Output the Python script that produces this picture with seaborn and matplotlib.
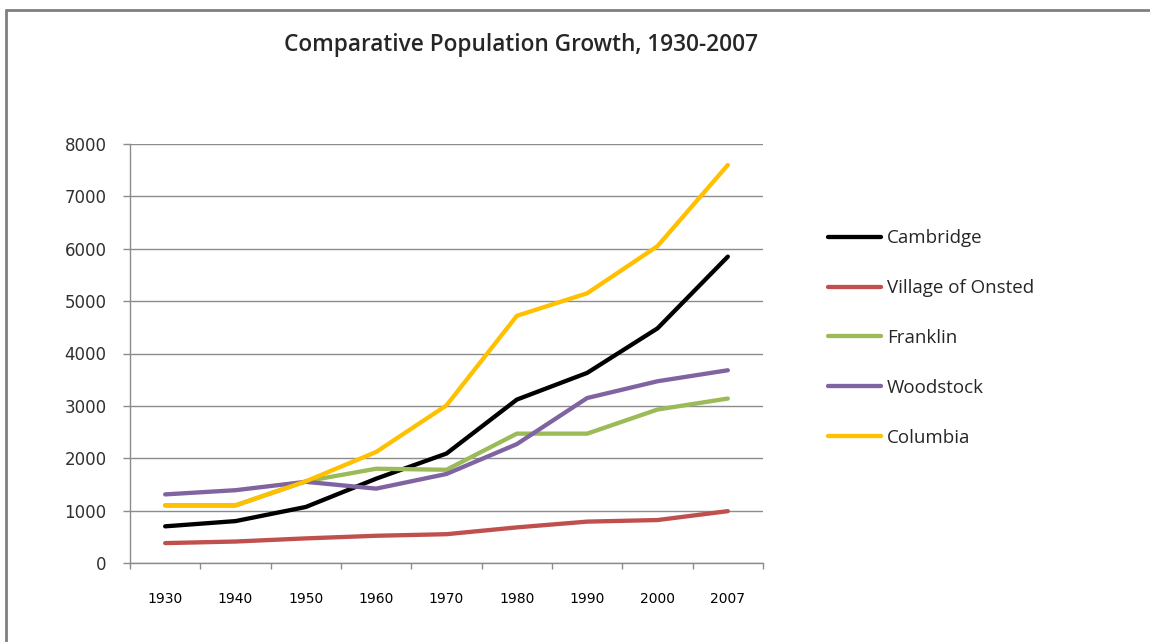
import pandas as pd
import numpy as np
import matplotlib.pyplot as plt
import seaborn as sns
from matplotlib.lines import Line2D
from matplotlib.ticker import FixedLocator

# ==========================================
# Data
# ==========================================

years = ["1930", "1940", "1950", "1960", "1970", "1980", "1990", "2000", "2007"]

cambridge = [700, 800, 1070, 1610, 2090, 3120, 3630, 4480, 5850]
onsted = [380, 410, 470, 520, 550, 680, 790, 820, 990]
franklin = [1100, 1100, 1560, 1800, 1780, 2470, 2470, 2930, 3140]
woodstock = [1310, 1390, 1550, 1420, 1700, 2270, 3150, 3470, 3680]
columbia = [1100, 1100, 1560, 2120, 3010, 4720, 5150, 6050, 7600]

towns = ["Cambridge", "Village of Onsted", "Franklin", "Woodstock", "Columbia"]
colors = ["#000000", "#C0504D", "#9BBB59", "#8064A2", "#FFC000"]

df = pd.DataFrame({
    "year": years * 5,
    "population": cambridge + onsted + franklin + woodstock + columbia,
    "town": [t for t in towns for _ in years],
})

# ==========================================
# Plot
# ==========================================

sns.set_theme(style="white")
plt.rcParams["font.family"] = ["DejaVu Sans"]

fig = plt.figure(figsize=(11.5, 6.42), dpi=100)
ax = fig.add_axes([130 / 1150, 1 - 563 / 642, 633 / 1150, 419 / 642])

sns.lineplot(
    data=df,
    x="year",
    y="population",
    hue="town",
    hue_order=towns,
    palette=colors,
    linewidth=3.1,
    sort=False,
    legend=False,
    ax=ax,
)

ax.set_xlim(-0.5, len(years) - 0.5)
ax.set_ylim(0, 8000)
ax.set_yticks(np.arange(0, 8001, 1000))
ax.yaxis.grid(True, color="#8c8c8c", linewidth=1)
ax.set_axisbelow(True)

ax.set_xticks(range(len(years)))
ax.set_xticklabels(years, fontsize=10, color="#000000")
ax.xaxis.set_minor_locator(FixedLocator(np.arange(-0.5, len(years), 1)))
ax.tick_params(axis="x", which="major", length=0, pad=21)
ax.tick_params(axis="x", which="minor", length=4.5, color="#8c8c8c", width=1, bottom=True)
ax.tick_params(axis="y", length=5, color="#8c8c8c", width=1, left=True,
               labelsize=12, labelcolor="#303030", pad=12)

ax.set_xlabel("")
ax.set_ylabel("")

for side in ["top", "right"]:
    ax.spines[side].set_visible(False)
for side in ["left", "bottom"]:
    ax.spines[side].set_color("#8c8c8c")
    ax.spines[side].set_linewidth(1)

# title
fig.text(521 / 1150, 1 - 45 / 642, "Comparative Population Growth, 1930-2007",
         ha="center", va="center", fontsize=16.3, fontweight="semibold",
         family=["Open Sans", "DejaVu Sans"])

# legend
handles = [Line2D([0], [0], color=c, linewidth=3.1) for c in colors]
fig.legend(
    handles, towns,
    loc="center left",
    bbox_to_anchor=(828 / 1150, 1 - 338 / 642),
    frameon=False,
    borderpad=0,
    borderaxespad=0,
    handlelength=2.85,
    handletextpad=0.3,
    labelspacing=1.7,
    prop={"family": ["Open Sans", "DejaVu Sans"], "size": 13.5},
)

# outer frame (top and left edges visible in reference)
fig.add_artist(Line2D([6 / 1150, 6 / 1150], [0, 1 - 10 / 642],
                      transform=fig.transFigure, color="#808080", linewidth=2))
fig.add_artist(Line2D([6 / 1150, 1], [1 - 10 / 642, 1 - 10 / 642],
                      transform=fig.transFigure, color="#808080", linewidth=2))

plt.savefig("out.png", dpi=100)
